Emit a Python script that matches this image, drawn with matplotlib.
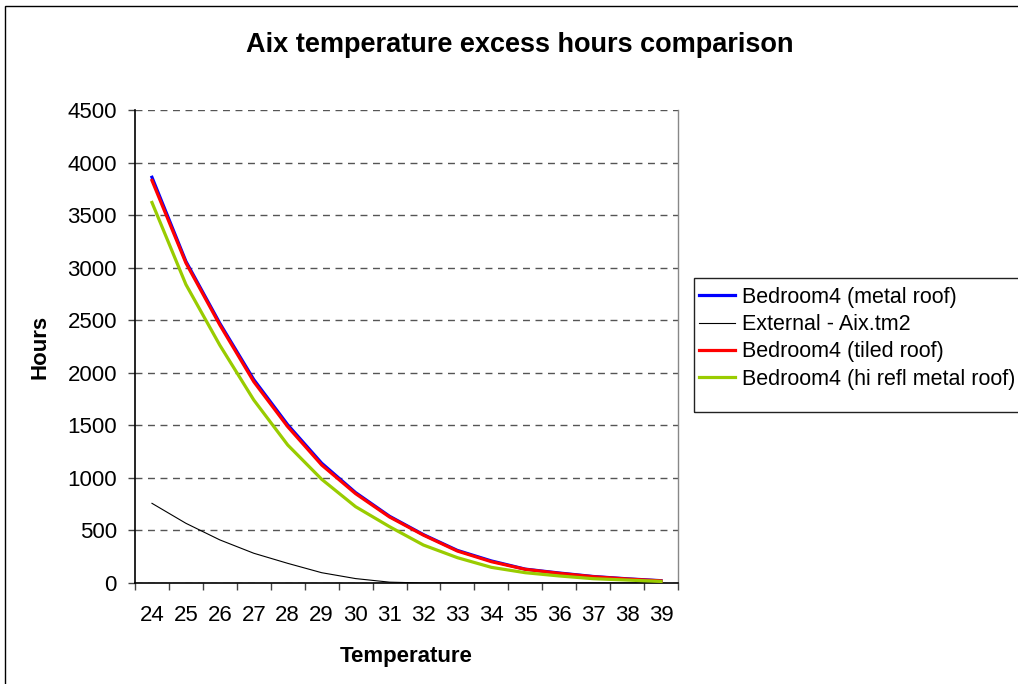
import matplotlib
matplotlib.use("Agg")
import matplotlib.pyplot as plt
from matplotlib.patches import Rectangle

plt.rcParams['font.family'] = ['Liberation Sans', 'DejaVu Sans']

temps = [24, 25, 26, 27, 28, 29, 30, 31, 32, 33, 34, 35, 36, 37, 38, 39]
metal_roof = [3860, 3060, 2470, 1935, 1505, 1140, 860, 635, 460, 310, 210, 132, 95, 62, 40, 22]
external = [758, 568, 410, 283, 187, 98, 42, 8, 0, 0, 0, 0, 0, 0, 0, 0]
tiled_roof = [3830, 3045, 2455, 1915, 1487, 1123, 850, 628, 455, 304, 203, 130, 92, 60, 38, 20]
hi_refl_roof = [3620, 2840, 2262, 1741, 1313, 987, 726, 536, 361, 241, 149, 98, 67, 41, 28, 15]

series_names = ["Bedroom4 (metal roof)", "External - Aix.tm2",
                "Bedroom4 (tiled roof)", "Bedroom4 (hi refl metal roof)"]

W, H = 1018, 684
fig = plt.figure(figsize=(W / 100, H / 100), dpi=100)
fig.patch.set_facecolor('white')

# outer chart border (clipped at right and bottom)
fig.add_artist(Rectangle((5 / W, -0.05), 1.2, 1 - 6 / H + 0.05, transform=fig.transFigure,
                         fill=False, edgecolor='black', linewidth=1.0))

ax = fig.add_axes([135 / W, 1 - 583 / H, (678 - 135) / W, (583 - 110) / H])
x = list(range(len(temps)))

ax.plot(x, metal_roof, color='#0000ff', linewidth=2.3, label=series_names[0], zorder=3)
ax.plot(x, external, color='black', linewidth=0.8, label=series_names[1], zorder=3)
ax.plot(x, tiled_roof, color='#ff0000', linewidth=2.3, label=series_names[2], zorder=4)
ax.plot(x, hi_refl_roof, color='#99cc00', linewidth=2.3, label=series_names[3], zorder=5)

ax.set_xlim(-0.5, len(temps) - 0.5)
ax.set_ylim(0, 4500)
ax.set_yticks(range(0, 4501, 500))
ax.yaxis.grid(True, linestyle=(0, (5, 4)), color='#555555', linewidth=1.0)
ax.set_axisbelow(True)

ax.set_xticks(x)
ax.set_xticklabels([str(t) for t in temps])
ax.set_xticks([i - 0.5 for i in range(len(temps) + 1)], minor=True)
ax.tick_params(axis='x', which='major', length=0, pad=16, labelsize=16)
ax.tick_params(axis='x', which='minor', length=5, width=1, color='#444444', direction='out')
ax.tick_params(axis='y', which='major', length=5, width=1, color='#444444', direction='out',
               labelsize=16, pad=8)

for s in ['left', 'bottom']:
    ax.spines[s].set_color('black')
    ax.spines[s].set_linewidth(1.2)
ax.spines['right'].set_color('#888888')
ax.spines['right'].set_linewidth(1.0)
ax.spines['top'].set_visible(False)

ax.set_xlabel('Temperature', fontsize=16, fontweight='bold', labelpad=14)
ax.set_ylabel('Hours', fontsize=16, fontweight='bold', labelpad=12)

fig.text(520 / W, 1 - 45 / H, 'Aix temperature excess hours comparison',
         ha='center', va='center', fontsize=19.5, fontweight='bold')

# legend frame (clipped at the right edge like the reference)
fig.add_artist(Rectangle((694 / W, 1 - 412 / H), 1.0, (412 - 278) / H,
                         transform=fig.transFigure, fill=False,
                         edgecolor='#222222', linewidth=1.0))

leg = ax.legend(loc='upper left', bbox_to_anchor=(699 / W, 1 - 287 / H),
                bbox_transform=fig.transFigure, fontsize=15.5, frameon=False,
                handlelength=1.65, handletextpad=0.33, borderpad=0,
                labelspacing=0.29, borderaxespad=0)

fig.savefig('out.png', dpi=100, facecolor='white')
